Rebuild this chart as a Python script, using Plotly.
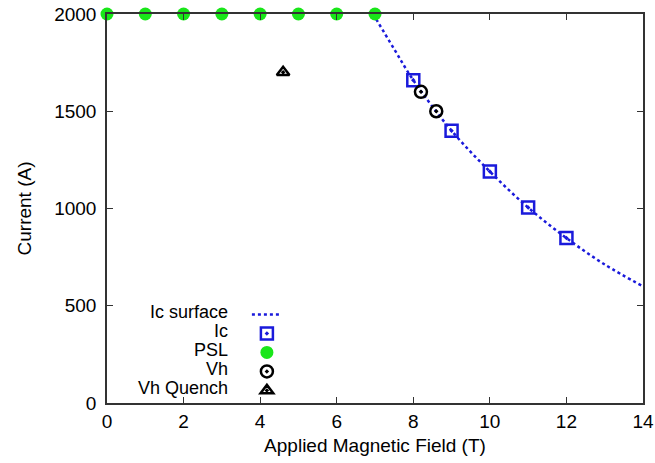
import plotly.graph_objects as go

# ---- data ----
surf_x = [6.95, 7.5, 8, 9, 10, 11, 12, 13, 14]
surf_y = [2000, 1820, 1660, 1400, 1190, 1005, 848, 712, 600]
ic_x = [8, 9, 10, 11, 12]
ic_y = [1660, 1400, 1190, 1005, 848]
psl_x = [0, 1, 2, 3, 4, 5, 6, 7]
psl_y = [2000, 2000, 2000, 2000, 2000, 2000, 2000, 2000]
vh_x = [8.2, 8.6]
vh_y = [1600, 1500]
vhq_x = [4.6]
vhq_y = [1700]
legend_labels = ["Ic surface", "Ic", "PSL", "Vh", "Vh Quench"]
x_ticks = [0, 2, 4, 6, 8, 10, 12, 14]
y_ticks = [0, 500, 1000, 1500, 2000]

FONT = "Liberation Sans, Arial, Helvetica, sans-serif"
BLUE = "#1a1adb"

fig = go.Figure()
fig.add_trace(go.Scatter(x=surf_x, y=surf_y, mode="lines", name=" ",
                         line=dict(color=BLUE, width=2.5, dash="dot", shape="spline"),
                         cliponaxis=False))
fig.add_trace(go.Scatter(x=ic_x, y=ic_y, mode="markers", name=" ",
                         marker=dict(symbol="square-open-dot", size=12, color=BLUE,
                                     line=dict(width=2.5, color=BLUE)),
                         cliponaxis=False))
fig.add_trace(go.Scatter(x=psl_x, y=psl_y, mode="markers", name=" ",
                         marker=dict(symbol="circle", size=13, color="#19e619"),
                         cliponaxis=False))
fig.add_trace(go.Scatter(x=vh_x, y=vh_y, mode="markers", name=" ",
                         marker=dict(symbol="circle-open-dot", size=12, color="black",
                                     line=dict(width=2.5, color="black")),
                         cliponaxis=False))
fig.add_trace(go.Scatter(x=vhq_x, y=vhq_y, mode="markers", name=" ",
                         marker=dict(symbol="triangle-up-open-dot", size=11, color="black",
                                     line=dict(width=2.5, color="black")),
                         cliponaxis=False))

# legend text (right-aligned, symbols to the right as in the original)
row_y = [0.234, 0.185, 0.136, 0.087, 0.039]
annotations = []
for lbl, yy in zip(legend_labels, row_y):
    annotations.append(dict(text=lbl, x=0.229, y=yy, xref="paper", yref="paper",
                            xanchor="right", yanchor="middle", showarrow=False,
                            font=dict(family=FONT, size=18, color="black")))

axis_common = dict(showline=True, linecolor="#333333", linewidth=1.5, mirror="ticks",
                   ticks="inside", ticklen=6, tickcolor="#333333", showgrid=False,
                   zeroline=False, automargin=False,
                   tickfont=dict(family=FONT, size=19, color="black"))

fig.update_layout(
    width=655, height=463,
    margin=dict(l=107, r=12, t=14, b=60),
    paper_bgcolor="white", plot_bgcolor="white",
    font=dict(family=FONT, size=19, color="black"),
    xaxis=dict(range=[0, 14], tickvals=x_ticks, ticklabelstandoff=0,
               title=dict(text="Applied Magnetic Field (T)", font=dict(family=FONT, size=19), standoff=8),
               **axis_common),
    yaxis=dict(range=[0, 2000], tickvals=y_ticks, ticklabelstandoff=5,
               title=dict(text="Current (A)", font=dict(family=FONT, size=19), standoff=18),
               **axis_common),
    showlegend=True,
    legend=dict(x=0.261, y=0.265, xanchor="left", yanchor="top", bgcolor="rgba(0,0,0,0)",
                font=dict(family=FONT, size=12), tracegroupgap=0, itemwidth=30),
    annotations=annotations,
)

# remove the browser's default 8px body margin so the figure sits at the page origin
fig.write_html("out.html", config={"displayModeBar": False},
               post_script="document.body.style.margin='0';")
